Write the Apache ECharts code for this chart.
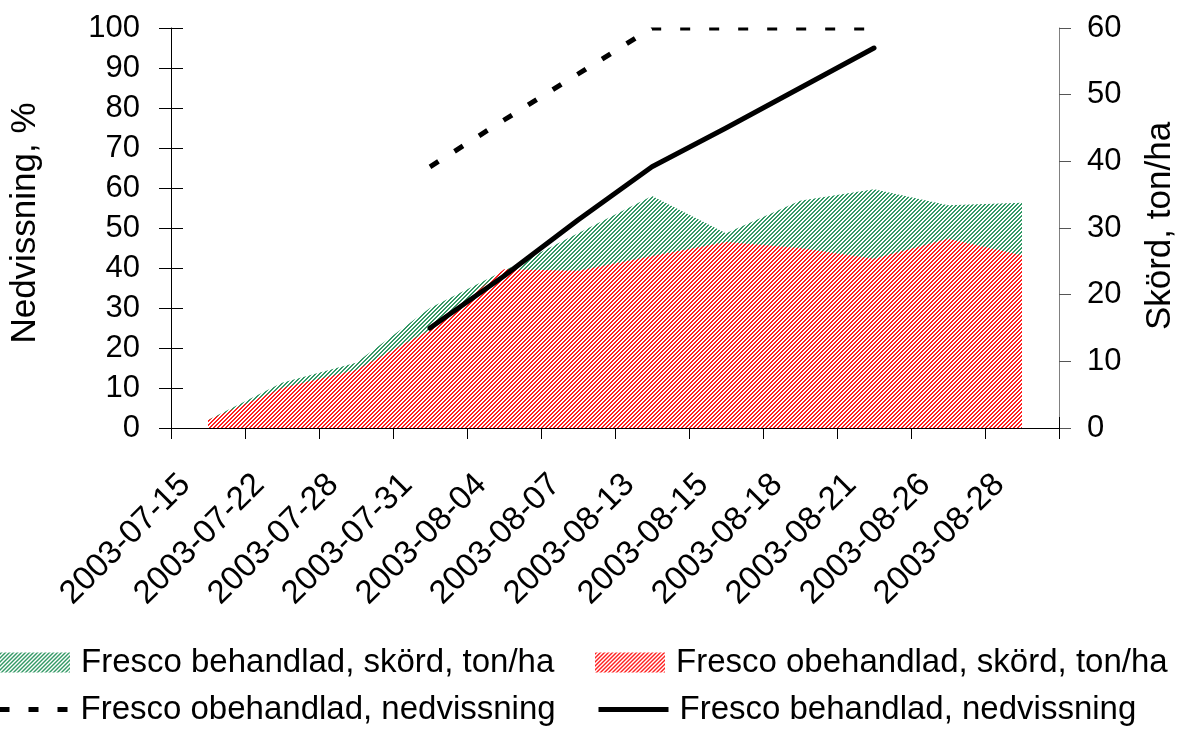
<!DOCTYPE html>
<html>
<head>
<meta charset="utf-8">
<title>Fresco nedvissning och skörd</title>
<script src="https://cdn.jsdelivr.net/npm/echarts@6/dist/echarts.min.js"></script>
<style>
  html, body { margin: 0; padding: 0; background: #fff; }
  #chart { width: 1189px; height: 731px; }
</style>
</head>
<body>
<div id="chart"></div>
<script>
// data
var dates = ['2003-07-15', '2003-07-22', '2003-07-28', '2003-07-31', '2003-08-04', '2003-08-07',
             '2003-08-13', '2003-08-15', '2003-08-18', '2003-08-21', '2003-08-26', '2003-08-28'];
// skörd, ton/ha (right axis)
var behandladSkord   = [1.2, 6.8, 9.8, 18.0, 23.6, 29.2, 34.8, 29.2, 34.1, 35.8, 33.4, 33.8];
var obehandladSkord  = [1.2, 6.0, 8.7, 14.7, 23.8, 23.6, 25.8, 27.9, 27.0, 25.4, 28.4, 25.9];
// nedvissning, % (left axis)
var obehandladNedv   = [null, null, null, 65.3, 77, 88.5, 100, 100, 100, 100, null, null];
var behandladNedv    = [null, null, null, 25, 38, 52, 65.3, 75, 85, 95, null, null];
// axis ranges [min, max, step]
var leftScale  = [0, 100, 10];
var rightScale = [0, 60, 10];

var FONT = '"Liberation Sans", Arial, sans-serif';
var DASH = [10, 19];

function hatch(color) {
  var c = document.createElement('canvas');
  c.width = 4; c.height = 4;
  var ctx = c.getContext('2d');
  ctx.fillStyle = '#fff';
  ctx.fillRect(0, 0, 4, 4);
  ctx.fillStyle = color;
  for (var y = 0; y < 4; y++) {
    for (var x = 0; x < 4; x++) {
      if ((x + y) % 4 < 2) ctx.fillRect(x, y, 1, 1);
    }
  }
  return { image: c, repeat: 'repeat' };
}

var greenHatch = hatch('#339966');
var redHatch = hatch('#ff2020');

var names = ['Fresco behandlad, skörd, ton/ha', 'Fresco obehandlad, skörd, ton/ha',
             'Fresco obehandlad, nedvissning', 'Fresco behandlad, nedvissning'];

function legendAt(left, top, item) {
  return {
    left: left, top: top, padding: 0, orient: 'horizontal',
    itemWidth: 70, itemHeight: 20, selectedMode: false,
    textStyle: { fontSize: 33, fontFamily: FONT, color: '#000', padding: [0, 0, 0, 6] },
    data: [item]
  };
}

var chart = echarts.init(document.getElementById('chart'), null, { renderer: 'canvas' });
chart.setOption({
  animation: false,
  backgroundColor: '#fff',
  grid: { left: 171, right: 130, top: 28, bottom: 303, containLabel: false, outerBoundsMode: 'none' },
  legend: [
    legendAt(0, 646, { name: names[0], icon: 'rect', itemStyle: { color: greenHatch } }),
    legendAt(595, 646, { name: names[1], icon: 'rect', itemStyle: { color: redHatch } }),
    legendAt(-3, 693, { name: names[2], itemStyle: { opacity: 0 },
                        lineStyle: { color: '#000', width: 5, type: DASH, cap: 'butt' } }),
    legendAt(596, 693, { name: names[3], itemStyle: { opacity: 0 },
                         lineStyle: { color: '#000', width: 5, type: 'solid', cap: 'butt' } })
  ],
  xAxis: [
    {
      type: 'category', data: dates, position: 'bottom', boundaryGap: true,
      axisLine: { show: true, onZero: false, lineStyle: { color: '#000', width: 1 } },
      axisTick: { show: true, length: 11, lineStyle: { color: '#000' } },
      axisLabel: { rotate: 45, interval: 0, margin: 29, padding: [0, 32, 0, 0],
                   fontSize: 33, fontFamily: FONT, color: '#000' },
      splitLine: { show: false }
    },
    {
      type: 'category', data: dates, position: 'bottom', boundaryGap: true,
      axisLine: { show: false, onZero: false },
      axisTick: { show: true, inside: true, length: 11, lineStyle: { color: '#000' } },
      axisLabel: { show: false },
      splitLine: { show: false }
    }
  ],
  yAxis: [
    {
      type: 'value', position: 'left', min: leftScale[0], max: leftScale[1], interval: leftScale[2],
      axisLine: { show: true, lineStyle: { color: '#000', width: 1 } },
      axisTick: { show: true, length: 12, lineStyle: { color: '#000' } },
      axisLabel: { margin: 31, fontSize: 31, fontFamily: FONT, color: '#000' },
      splitLine: { show: false }
    },
    {
      type: 'value', position: 'right', min: rightScale[0], max: rightScale[1], interval: rightScale[2],
      axisLine: { show: true, lineStyle: { color: '#808080', width: 1 } },
      axisTick: { show: true, length: 12, lineStyle: { color: '#555' } },
      axisLabel: { margin: 28, fontSize: 31, fontFamily: FONT, color: '#000' },
      splitLine: { show: false }
    },
    {
      type: 'value', position: 'left', min: leftScale[0], max: leftScale[1], interval: leftScale[2],
      axisLine: { show: false },
      axisTick: { show: true, inside: true, length: 12, lineStyle: { color: '#000' } },
      axisLabel: { show: false },
      splitLine: { show: false }
    }
  ],
  graphic: [
    { type: 'rect', z: 100, shape: { x: 185, y: 0, width: 870, height: 27.5 }, style: { fill: '#fff' } },
    { type: 'text', x: 25, y: 223, rotation: Math.PI / 2,
      style: { text: 'Nedvissning, %', fontSize: 35, fontFamily: FONT, fill: '#000', align: 'center', verticalAlign: 'middle' } },
    { type: 'text', x: 1160, y: 226, rotation: Math.PI / 2,
      style: { text: 'Skörd, ton/ha', fontSize: 35, fontFamily: FONT, fill: '#000', align: 'center', verticalAlign: 'middle' } }
  ],
  series: [
    {
      name: names[0], type: 'line', yAxisIndex: 1, data: behandladSkord,
      symbol: 'none', lineStyle: { width: 0 },
      itemStyle: { color: '#339966' },
      areaStyle: { color: greenHatch, opacity: 1 }
    },
    {
      name: names[1], type: 'line', yAxisIndex: 1, data: obehandladSkord,
      symbol: 'none', lineStyle: { width: 0 },
      itemStyle: { color: '#ff2020' },
      areaStyle: { color: redHatch, opacity: 1 }
    },
    {
      name: names[2], type: 'line', yAxisIndex: 0, data: obehandladNedv,
      symbol: 'none', itemStyle: { color: '#000' },
      lineStyle: { color: '#000', width: 5, type: DASH, cap: 'butt' }
    },
    {
      name: names[3], type: 'line', yAxisIndex: 0, data: behandladNedv,
      symbol: 'none', itemStyle: { color: '#000' },
      lineStyle: { color: '#000', width: 5, cap: 'round', join: 'round' }
    }
  ]
});
</script>
</body>
</html>
